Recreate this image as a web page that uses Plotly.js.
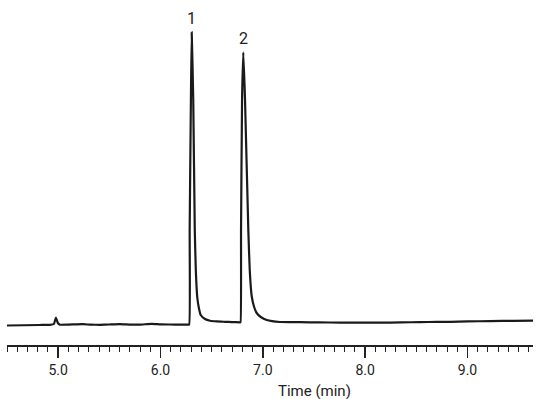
<!DOCTYPE html>
<html>
<head>
<meta charset="utf-8">
<script src="https://cdn.plot.ly/plotly-3.0.1.min.js"></script>
<style>
html,body{margin:0;padding:0;background:#fff;}
#chart{width:540px;height:399px;}
</style>
</head>
<body>
<div id="chart"></div>
<script>
// Retention time (min)
const timeMin = [4.50, 4.821, 4.919, 4.958, 4.978, 4.997, 5.017, 5.10, 5.242, 5.32, 5.408, 5.50, 5.603, 5.70, 5.799, 5.916, 6.00, 6.092, 6.200, 6.268,
  6.280, 6.285, 6.297, 6.305, 6.320, 6.335, 6.345, 6.359, 6.375, 6.393, 6.435, 6.484, 6.55, 6.630, 6.700, 6.777,
  6.782, 6.787, 6.797, 6.809, 6.826, 6.858, 6.872, 6.891, 6.915, 6.940, 6.98, 7.038, 7.168, 7.364, 7.55, 7.755, 7.95, 8.146, 8.35, 8.537, 8.70, 8.831, 9.00, 9.222, 9.45, 9.643];
// Detector signal (arbitrary units)
const signal = [19.5, 20.0, 20.2, 21.0, 27.5, 22.0, 20.3, 20.4, 20.8, 20.3, 20.2, 20.5, 20.8, 20.4, 20.4, 21.2, 20.6, 20.5, 20.4, 20.3,
  20.5, 115, 245, 312.7, 245, 115, 75, 48, 37, 30, 26, 24.3, 23.6, 23.2, 22.9, 22.7,
  22.7, 115, 245, 292.7, 245, 115, 75, 49, 38, 32, 28, 25, 23, 22.8, 22.6, 22.4, 22.3, 22.3, 22.6, 22.9, 23.1, 23.2, 23.6, 23.9, 24.2, 24.3];
// Peak labels
const peakNames = ['1', '2'];
const peakTimes = [6.305, 6.809];
const peakHeights = [312.7, 292.7];
// Axis tick labels
const tickVals = [5, 6, 7, 8, 9];
const tickText = ['5.0', '6.0', '7.0', '8.0', '9.0'];
const axisTitle = 'Time (min)';
const axisTitleAt = 7.5;

const fontFam = 'Roboto, "DejaVu Sans", sans-serif';

const trace = {
  x: timeMin, y: signal, type: 'scatter', mode: 'lines',
  line: {color: '#1a1a1a', width: 2.2, shape: 'spline', smoothing: 0.4},
  hoverinfo: 'skip'
};

const annotations = peakNames.map((n, i) => ({
  x: peakTimes[i], y: peakHeights[i], xref: 'x', yref: 'y',
  text: n, showarrow: false, yanchor: 'bottom', yshift: 2,
  font: {family: fontFam, size: 16, color: '#222'}
}));
annotations.push({
  x: axisTitleAt, xref: 'x', y: -0.137, yref: 'paper',
  text: axisTitle, showarrow: false, xanchor: 'center', yanchor: 'middle',
  font: {family: fontFam, size: 15, color: '#222'}
});

const layout = {
  width: 540, height: 399,
  margin: {l: 7, r: 7, t: 10, b: 54},
  paper_bgcolor: '#fff', plot_bgcolor: '#fff',
  showlegend: false,
  xaxis: {
    range: [4.5, 9.64],
    showline: true, linewidth: 2, linecolor: '#222',
    showgrid: false, zeroline: false,
    ticks: 'outside', ticklen: 11, tickwidth: 1.5, tickcolor: '#222',
    tickmode: 'array', tickvals: tickVals, ticktext: tickText,
    tickfont: {family: fontFam, size: 14, color: '#222'},
    minor: {ticks: 'outside', dtick: 0.1, tick0: 4.5, ticklen: 5, tickwidth: 1, tickcolor: '#222', showgrid: false}
  },
  yaxis: {range: [0, 335], visible: false, fixedrange: true},
  annotations: annotations
};

Plotly.newPlot('chart', [trace], layout, {staticPlot: true, displayModeBar: false});
</script>
</body>
</html>
